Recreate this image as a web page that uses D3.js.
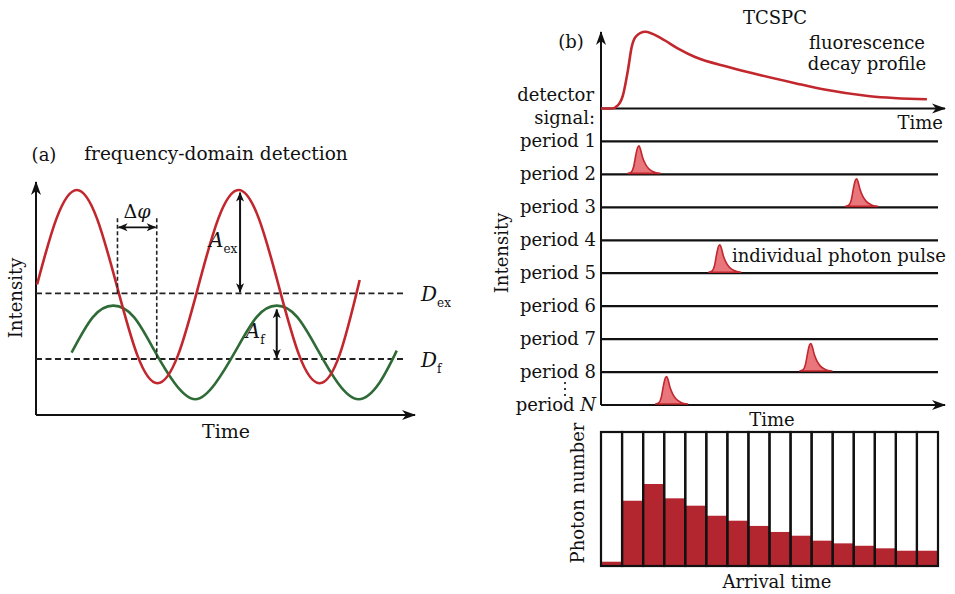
<!DOCTYPE html>
<html>
<head>
<meta charset="utf-8">
<script src="https://cdn.jsdelivr.net/npm/d3@7"></script>
<style>
body { margin: 0; background: #fff; }
text { font-family: "DejaVu Serif", serif; fill: #111; }
</style>
</head>
<body>
<div id="chart"></div>
<script>
// ---- panel (a): frequency-domain detection ----
var exTime = [0.3, 5.6, 11.1, 16.6, 22.1, 27.6, 33.1, 38.7, 44.2, 49.7, 55.2, 60.7, 66.2, 71.7, 77.2, 82.7, 88.2];
var exIntensity = [58, 87.4, 100, 87.4, 57, 26.6, 14.1, 26.6, 57, 87.4, 100, 87.4, 57, 26.6, 14.1, 26.6, 60];
var fTime = [9.7, 15.5, 21.1, 26.7, 32.2, 37.8, 43.4, 48.9, 54.5, 60.1, 65.6, 71.2, 76.8, 82.3, 87.9, 93.5, 98.3];
var fIntensity = [27.7, 43.5, 48.6, 43.5, 28.8, 14.1, 7.0, 14.1, 28.8, 43.5, 48.6, 43.5, 28.8, 14.1, 7.0, 14.1, 28.6];
var dcNames = ["ex", "f"];
var dcLevels = [54.1, 24.9];
var phaseTimes = [22.2, 32.9];
var ampTimes = [55.6, 65.6];
var ampTops = [99.3, 47.4];

// ---- panel (b): TCSPC ----
var decayTime = [0, 3.2, 5.0, 6.5, 8.0, 9.1, 10.4, 13.1, 18.0, 22.9, 27.9, 37.8, 47.7, 57.6, 65.9, 79.8, 96.7];
var decayValue = [0, 0, 0.04, 0.17, 0.5, 0.8, 0.94, 1.0, 0.91, 0.78, 0.67, 0.54, 0.43, 0.33, 0.25, 0.16, 0.12];
var periods = ["signal", "1", "2", "3", "4", "5", "6", "7", "8", "N"];
var pulsePeriods = ["2", "3", "5", "8", "N"];
var pulseTimes = [11.3, 75.9, 35.3, 62.3, 19.5];
var pulseOffset = [-3.3, -2.4, -1.6, -1.0, -0.4, 0, 0.4, 1.0, 1.8, 2.8, 4.2, 6.2];
var pulseShape = [0, 0.04, 0.25, 0.65, 0.95, 1, 0.88, 0.6, 0.36, 0.18, 0.06, 0];
var histCounts = [3.2, 48.7, 61.2, 50.5, 45, 37.5, 33.8, 29.9, 25.4, 22.6, 18.9, 16.9, 15.1, 13.2, 11.4, 11.4];

var red = "#c1272d", green = "#2f6b36", ink = "#111";

var svg = d3.select("#chart").append("svg")
    .attr("width", 955)
    .attr("height", 594);

var defs = svg.append("defs");
// slender axis arrow head
defs.append("marker")
    .attr("id", "axisArrow")
    .attr("viewBox", "-14 -6 16 12")
    .attr("markerWidth", 16).attr("markerHeight", 12)
    .attr("markerUnits", "userSpaceOnUse")
    .attr("refX", 0).attr("refY", 0)
    .attr("orient", "auto")
  .append("path")
    .attr("d", "M1,0 L-13,-5 L-9,0 L-13,5 Z")
    .attr("fill", ink);
// small double arrow head
defs.append("marker")
    .attr("id", "dimArrow")
    .attr("viewBox", "-10 -5 11 10")
    .attr("markerWidth", 11).attr("markerHeight", 10)
    .attr("markerUnits", "userSpaceOnUse")
    .attr("refX", 0).attr("refY", 0)
    .attr("orient", "auto-start-reverse")
  .append("path")
    .attr("d", "M0.5,0 L-9,-4 L-6.5,0 L-9,4 Z")
    .attr("fill", ink);

// ================= panel (a) =================
var xA = d3.scaleLinear().domain([0, 100]).range([36, 403]);
var yA = d3.scaleLinear().domain([0, 100]).range([415, 190]);

var gA = svg.append("g");

gA.append("text").attr("x", 44).attr("y", 161).attr("text-anchor", "middle")
    .style("font-size", "18px").text("(a)");
gA.append("text").attr("x", 216).attr("y", 160).attr("text-anchor", "middle")
    .style("font-size", "18.5px").text("frequency-domain detection");

// axes
gA.append("line")
    .attr("x1", xA(0)).attr("y1", yA(0))
    .attr("x2", xA(0)).attr("y2", 182)
    .attr("stroke", ink).attr("stroke-width", 2)
    .attr("marker-end", "url(#axisArrow)");
gA.append("line")
    .attr("x1", xA(0)).attr("y1", yA(0))
    .attr("x2", 415).attr("y2", yA(0))
    .attr("stroke", ink).attr("stroke-width", 2)
    .attr("marker-end", "url(#axisArrow)");

gA.append("text")
    .attr("transform", "translate(22,298) rotate(-90)")
    .attr("text-anchor", "middle")
    .style("font-size", "18px").text("Intensity");
gA.append("text").attr("x", 226).attr("y", 438).attr("text-anchor", "middle")
    .style("font-size", "19px").text("Time");

// DC levels
gA.selectAll(".dc").data(dcLevels).enter().append("line")
    .attr("class", "dc")
    .attr("x1", xA(0)).attr("x2", xA(100))
    .attr("y1", function(d) { return yA(d); })
    .attr("y2", function(d) { return yA(d); })
    .attr("stroke", "#222").attr("stroke-width", 1.8)
    .attr("stroke-dasharray", "6,3.5");

var dcLab = gA.selectAll(".dclab").data(dcLevels).enter().append("text")
    .attr("class", "dclab")
    .attr("x", 421)
    .attr("y", function(d) { return yA(d) + 8; })
    .style("font-size", "20px");
dcLab.append("tspan").style("font-style", "italic").text("D");
dcLab.append("tspan").attr("dy", 6).style("font-size", "12px")
    .text(function(d, i) { return dcNames[i]; });

// curves
var lineA = d3.line()
    .x(function(d) { return xA(d[0]); })
    .y(function(d) { return yA(d[1]); })
    .curve(d3.curveNatural);

gA.append("path")
    .datum(d3.zip(fTime, fIntensity))
    .attr("d", lineA)
    .attr("fill", "none").attr("stroke", green).attr("stroke-width", 2.6);
gA.append("path")
    .datum(d3.zip(exTime, exIntensity))
    .attr("d", lineA)
    .attr("fill", "none").attr("stroke", red).attr("stroke-width", 2.6);

// phase shift markers
gA.selectAll(".ph").data(phaseTimes).enter().append("line")
    .attr("class", "ph")
    .attr("x1", function(d) { return xA(d); })
    .attr("x2", function(d) { return xA(d); })
    .attr("y1", yA(87.4))
    .attr("y2", function(d, i) { return yA(dcLevels[i]); })
    .attr("stroke", "#222").attr("stroke-width", 1.6)
    .attr("stroke-dasharray", "4,2.5");
gA.append("line")
    .attr("x1", xA(phaseTimes[0]) + 1).attr("x2", xA(phaseTimes[1]) - 1)
    .attr("y1", yA(83.4)).attr("y2", yA(83.4))
    .attr("stroke", ink).attr("stroke-width", 1.6)
    .attr("marker-start", "url(#dimArrow)")
    .attr("marker-end", "url(#dimArrow)");
var phLab = gA.append("text")
    .attr("x", xA((phaseTimes[0] + phaseTimes[1]) / 2)).attr("y", 218)
    .attr("text-anchor", "middle").style("font-size", "19px");
phLab.append("tspan").text("Δ");
phLab.append("tspan").style("font-style", "italic").text("φ");

// amplitude arrows
gA.selectAll(".amp").data(ampTimes).enter().append("line")
    .attr("class", "amp")
    .attr("x1", function(d) { return xA(d); })
    .attr("x2", function(d) { return xA(d); })
    .attr("y1", function(d, i) { return yA(ampTops[i]) + 1; })
    .attr("y2", function(d, i) { return yA(dcLevels[i]) - 1; })
    .attr("stroke", ink).attr("stroke-width", 2)
    .attr("marker-start", "url(#dimArrow)")
    .attr("marker-end", "url(#dimArrow)");
var ampLab = gA.selectAll(".amplab").data(ampTimes).enter().append("text")
    .attr("class", "amplab")
    .attr("x", function(d) { return xA(d) - 31; })
    .attr("y", function(d, i) { return i === 0 ? 247 : 338; })
    .style("font-size", "20px");
ampLab.append("tspan").style("font-style", "italic").text("A");
ampLab.append("tspan").attr("dy", 6).style("font-size", "12px")
    .text(function(d, i) { return dcNames[i]; });

// ================= panel (b) =================
var xB = d3.scaleLinear().domain([0, 100]).range([601, 938]);
var yP = d3.scalePoint().domain(periods).range([108.5, 405]);
var yDecay = d3.scaleLinear().domain([0, 1]).range([yP("signal"), 31.7]);
var pulseH = d3.scaleLinear().domain([0, 1]).range([0, 27.5]);

var gB = svg.append("g");

gB.append("text").attr("x", 775).attr("y", 24).attr("text-anchor", "middle")
    .style("font-size", "18px").text("TCSPC");
gB.append("text").attr("x", 571).attr("y", 48).attr("text-anchor", "middle")
    .style("font-size", "18px").text("(b)");
gB.append("text").attr("x", 867).attr("y", 49).attr("text-anchor", "middle")
    .style("font-size", "18px").text("fluorescence");
gB.append("text").attr("x", 867).attr("y", 70).attr("text-anchor", "middle")
    .style("font-size", "18px").text("decay profile");
gB.append("text").attr("x", 594).attr("y", 101).attr("text-anchor", "end")
    .style("font-size", "18px").text("detector");
gB.append("text").attr("x", 595).attr("y", 124).attr("text-anchor", "end")
    .style("font-size", "18px").text("signal:");
gB.append("text").attr("x", 943).attr("y", 129).attr("text-anchor", "end")
    .style("font-size", "18px").text("Time");

// vertical axis
gB.append("line")
    .attr("x1", xB(0)).attr("x2", xB(0))
    .attr("y1", yP("N")).attr("y2", 32)
    .attr("stroke", ink).attr("stroke-width", 2)
    .attr("marker-end", "url(#axisArrow)");

// period baselines
gB.selectAll(".base").data(periods).enter().append("line")
    .attr("class", "base")
    .attr("x1", xB(0))
    .attr("x2", function(d) { return (d === "signal" || d === "N") ? 945 : xB(100); })
    .attr("y1", function(d) { return yP(d); })
    .attr("y2", function(d) { return yP(d); })
    .attr("stroke", ink).attr("stroke-width", 2.2)
    .attr("marker-end", function(d) { return (d === "signal" || d === "N") ? "url(#axisArrow)" : null; });

var perLab = gB.selectAll(".plab").data(periods.slice(1)).enter().append("text")
    .attr("class", "plab")
    .attr("x", 596)
    .attr("y", function(d) { return yP(d) + 6; })
    .attr("text-anchor", "end")
    .style("font-size", "18px");
perLab.append("tspan").text("period ");
perLab.append("tspan")
    .style("font-style", function(d) { return d === "N" ? "italic" : "normal"; })
    .text(function(d) { return d; });
// vertical ellipsis between period 8 and period N
gB.selectAll(".dot").data([0, 1, 2]).enter().append("circle")
    .attr("class", "dot")
    .attr("cx", 565)
    .attr("cy", function(d) { return 383 + d * 6; })
    .attr("r", 1.1)
    .attr("fill", ink);

gB.append("text")
    .attr("transform", "translate(508,253) rotate(-90)")
    .attr("text-anchor", "middle")
    .style("font-size", "18px").text("Intensity");
gB.append("text").attr("x", 772).attr("y", 426).attr("text-anchor", "middle")
    .style("font-size", "18px").text("Time");

// decay profile
gB.append("path")
    .datum(d3.zip(decayTime, decayValue))
    .attr("d", d3.line()
        .x(function(d) { return xB(d[0]); })
        .y(function(d) { return yDecay(d[1]); })
        .curve(d3.curveMonotoneX))
    .attr("fill", "none").attr("stroke", red).attr("stroke-width", 2.6);

// photon pulses
var pulseArea = d3.area()
    .x(function(d) { return xB(d.t + d.off); })
    .y0(function(d) { return yP(d.p) - 1; })
    .y1(function(d) { return yP(d.p) - 1 - pulseH(d.v); })
    .curve(d3.curveMonotoneX);
var pulseData = pulsePeriods.map(function(p, i) {
    return pulseOffset.map(function(o, j) {
        return { p: p, t: pulseTimes[i], off: o, v: pulseShape[j] };
    });
});
gB.selectAll(".pulse").data(pulseData).enter().append("path")
    .attr("class", "pulse")
    .attr("d", pulseArea)
    .attr("fill", "#e8767a")
    .attr("stroke", red).attr("stroke-width", 1.6)
    .attr("stroke-linejoin", "round");

gB.append("text").attr("x", 732).attr("y", 262)
    .style("font-size", "18px").text("individual photon pulse");

// ---- histogram ----
var xH = d3.scaleBand().domain(d3.range(histCounts.length)).range([601, 938]);
var yH = d3.scaleLinear().domain([0, 100]).range([566, 432]);

var gH = svg.append("g");
gH.selectAll(".bar").data(histCounts).enter().append("rect")
    .attr("class", "bar")
    .attr("x", function(d, i) { return xH(i); })
    .attr("width", xH.bandwidth())
    .attr("y", function(d) { return yH(d); })
    .attr("height", function(d) { return yH(0) - yH(d); })
    .attr("fill", "#b3262f");
gH.selectAll(".bin").data(histCounts).enter().append("rect")
    .attr("class", "bin")
    .attr("x", function(d, i) { return xH(i); })
    .attr("width", xH.bandwidth())
    .attr("y", yH(100))
    .attr("height", yH(0) - yH(100))
    .attr("fill", "none")
    .attr("stroke", ink).attr("stroke-width", 2.2);

gH.append("text")
    .attr("transform", "translate(584,493) rotate(-90)")
    .attr("text-anchor", "middle")
    .style("font-size", "18px").text("Photon number");
gH.append("text").attr("x", 777).attr("y", 588).attr("text-anchor", "middle")
    .style("font-size", "18px").text("Arrival time");
</script>
</body>
</html>
